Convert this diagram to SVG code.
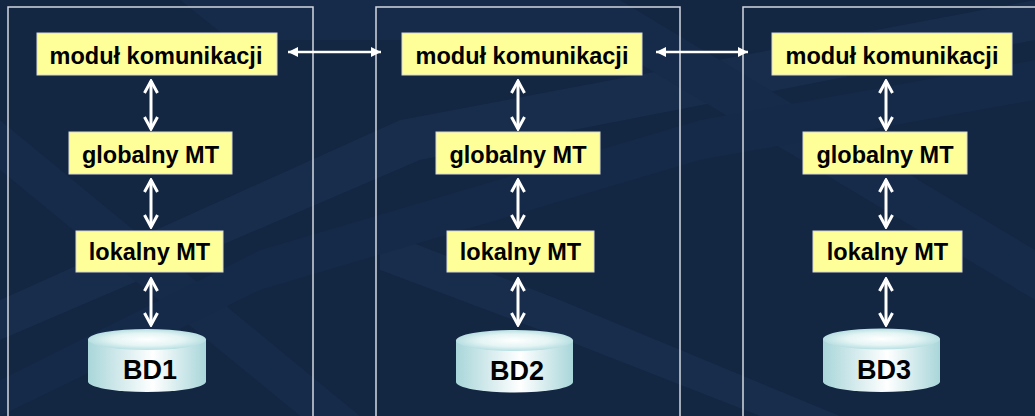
<svg xmlns="http://www.w3.org/2000/svg" width="1035" height="416" viewBox="0 0 1035 416">
<defs>
<style>
.panel{fill:none;stroke:#d4d8e0;stroke-width:1.5}
.box{fill:#ffff99;stroke:#d8d8d8;stroke-width:1}
.lbl{font-family:"Liberation Sans",Arial,sans-serif;font-weight:bold;font-size:23.5px;fill:#000;text-anchor:middle}
.db{font-family:"Liberation Sans",Arial,sans-serif;font-weight:bold;font-size:27px;fill:#000;text-anchor:middle}
.v{stroke:#fff;stroke-width:3;fill:none;marker-start:url(#chev);marker-end:url(#chev)}
.h{stroke:#fff;stroke-width:2.5;fill:none;marker-start:url(#tri);marker-end:url(#tri)}
.cylBody{fill:url(#gBody)}
.cylTop{fill:url(#gTop)}
</style>
<marker id="chev" viewBox="-14 -8 16 16" markerWidth="16" markerHeight="16" refX="0" refY="0" orient="auto-start-reverse" markerUnits="userSpaceOnUse">
<path d="M-12,-6.5 L0,0 L-12,6.5" fill="none" stroke="#fff" stroke-width="3"/>
</marker>
<marker id="tri" viewBox="-11 -6 12 12" markerWidth="12" markerHeight="12" refX="0" refY="0" orient="auto-start-reverse" markerUnits="userSpaceOnUse">
<path d="M-10,-5 L0,0 L-10,5 Z" fill="#fff"/>
</marker>
<linearGradient id="gBody" x1="0" y1="0" x2="1" y2="0">
<stop offset="0" stop-color="#a9d6da"/>
<stop offset="0.55" stop-color="#ffffff"/>
<stop offset="1" stop-color="#a9d6da"/>
</linearGradient>
<radialGradient id="gTop" cx="0.5" cy="0.5" r="0.5">
<stop offset="0" stop-color="#ffffff"/>
<stop offset="0.6" stop-color="#e4f4f4"/>
<stop offset="1" stop-color="#b8dfe2"/>
</radialGradient>
</defs>
<rect x="0" y="0" width="1035" height="416" fill="#132642"/>
<g id="background" opacity="0.35">
<polygon points="0,300 400,120 1035,0 1035,40 420,160 0,340" fill="#1f3a5e"/>
<polygon points="180,0 620,0 1035,250 1035,300 600,40 230,40" fill="#1c3458"/>
<polygon points="0,170 300,416 360,416 0,120" fill="#1c3458"/>
<polygon points="380,230 560,300 840,416 760,416 540,330 380,270" fill="#1f3a5e"/>
<polygon points="0,380 260,250 700,120 1035,60 1035,100 700,160 260,290 0,416" fill="#1a3254"/>
</g>
<g id="panel1"><rect class="panel" x="8" y="7" width="305" height="420"/></g>
<g id="panel2"><rect class="panel" x="376" y="7" width="304" height="420"/></g>
<g id="panel3"><rect class="panel" x="743" y="7" width="310" height="420"/></g>
<g id="connectors">
<line class="h" x1="288" y1="52" x2="381" y2="52"/>
<line class="h" x1="656" y1="52" x2="748" y2="52"/>
<line class="v" x1="151" y1="81" x2="151" y2="129"/>
<line class="v" x1="151" y1="180" x2="151" y2="227"/>
<line class="v" x1="151" y1="279" x2="151" y2="325"/>
<line class="v" x1="518" y1="81" x2="518" y2="129"/>
<line class="v" x1="518" y1="180" x2="518" y2="227"/>
<line class="v" x1="518" y1="279" x2="518" y2="325"/>
<line class="v" x1="886" y1="81" x2="886" y2="129"/>
<line class="v" x1="886" y1="180" x2="886" y2="227"/>
<line class="v" x1="886" y1="279" x2="886" y2="325"/>
</g>
<g id="kom1"><rect class="box" x="37" y="33" width="240" height="42"/><text class="lbl" x="156" y="64">moduł komunikacji</text></g>
<g id="glob1"><rect class="box" x="69" y="132" width="163" height="42"/><text class="lbl" x="150.5" y="163">globalny MT</text></g>
<g id="lok1"><rect class="box" x="76" y="231" width="147" height="41"/><text class="lbl" x="149.5" y="260">lokalny MT</text></g>
<g id="bd1">
<path class="cylBody" d="M88,339.5 L88,381.5 A59,10.5 0 0 0 206,381.5 L206,339.5 Z"/>
<ellipse class="cylTop" cx="147" cy="339.5" rx="59" ry="10.5"/>
<text class="db" x="150" y="379">BD1</text>
</g>
<g id="kom2"><rect class="box" x="402" y="33" width="240" height="42"/><text class="lbl" x="522" y="64">moduł komunikacji</text></g>
<g id="glob2"><rect class="box" x="436" y="132" width="164" height="42"/><text class="lbl" x="518" y="163">globalny MT</text></g>
<g id="lok2"><rect class="box" x="447" y="231" width="147" height="41"/><text class="lbl" x="520.5" y="260">lokalny MT</text></g>
<g id="bd2">
<path class="cylBody" d="M456,340.5 L456,382 A58.5,10.5 0 0 0 573,382 L573,340.5 Z"/>
<ellipse class="cylTop" cx="514.5" cy="340.5" rx="58.5" ry="10.5"/>
<text class="db" x="517" y="380">BD2</text>
</g>
<g id="kom3"><rect class="box" x="772" y="33" width="240" height="42"/><text class="lbl" x="892" y="64">moduł komunikacji</text></g>
<g id="glob3"><rect class="box" x="803" y="132" width="164" height="42"/><text class="lbl" x="885" y="163">globalny MT</text></g>
<g id="lok3"><rect class="box" x="813" y="231" width="149" height="41"/><text class="lbl" x="887.5" y="260">lokalny MT</text></g>
<g id="bd3">
<path class="cylBody" d="M823,339 L823,381.5 A58.5,10.5 0 0 0 940,381.5 L940,339 Z"/>
<ellipse class="cylTop" cx="881.5" cy="339" rx="58.5" ry="10.5"/>
<text class="db" x="884" y="379">BD3</text>
</g>
</svg>
